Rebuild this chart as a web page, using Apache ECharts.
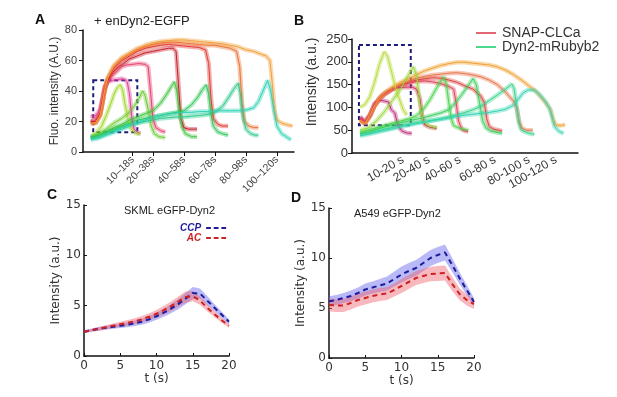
<!DOCTYPE html>
<html>
<head>
<meta charset="utf-8">
<script src="https://cdn.jsdelivr.net/npm/echarts@6/dist/echarts.min.js"></script>
<style>
  html, body { margin: 0; background: #fff; }
  #chart { width: 617px; height: 397px; }
</style>
</head>
<body>
<div id="chart"></div>
<script>
// ---- panel A : enDyn2-EGFP windows ----
const aTicks = [32, 45, 65, 85, 105, 125];
const aTickLabels = ['10–18s', '20–38s', '40–58s', '60–78s', '80–98s', '100–120s'];
const aClc = [
  [[5,24],[7,23],[9,25],[11,28],[12.5,35],[14,43],[16,46],[19,47],[22,47.5],[25,48],[27,47.5],[28.5,46],[30,38],[31.5,22],[33,15],[35,13],[37,12]],
  [[5,21],[7,20],[9,22],[11,26],[12.5,34],[14,42],[16,47],[19,50],[22,53],[25,56],[28,57],[32,57.5],[36,58],[40,57.5],[42,56],[43.5,40],[45,22],[47,16],[50,14],[53,13]],
  [[5,20],[8,20],[11,25],[12.5,33],[14,41],[16,47],[19,52],[22,55],[26,58],[30,61],[35,63],[40,65],[45,66],[50,67],[55,68],[58,68],[60,66],[61.5,45],[63,22],[65,16],[68,15],[71,15],[73.5,15]],
  [[5,19],[8,19],[11,24],[12.5,32],[14,41],[16,48],[20,55],[25,60],[30,63],[35,66],[40,68],[45,69],[50,70],[55,70.5],[60,70],[65,69.5],[70,69],[75,68.5],[79,67],[81,58],[82.5,35],[84,22],[87,18],[90,17],[93.5,17]],
  [[5,19],[8,19],[11,24],[12.5,32],[14,41],[16,48],[20,56],[25,61],[30,64],[35,67],[40,69],[45,70.5],[50,71.5],[55,72],[60,72],[65,71.5],[70,71],[75,70.5],[80,70],[85,70],[90,69],[95,68],[99,66],[101,56],[102.5,32],[104,20],[107,17],[110,16],[113,16]],
  [[5,19],[8,19],[11,24],[12.5,32],[14,41],[16,49],[20,57],[25,62],[30,65],[35,68],[40,70],[45,71.5],[50,72.5],[55,73],[60,73.5],[65,73.5],[70,73],[75,72.5],[80,72],[85,71.5],[90,71],[95,70],[100,69],[105,67],[110,66],[115,64],[118,63],[120.5,60],[122,45],[123.5,27],[125,21],[128,19],[131,18],[135,17]]
];
const aDyn = [
  [[6.5,11],[9,13],[12,17],[15,24],[18,32],[20,38],[22,42],[24,44],[25.5,41],[27,32],[29,22],[31,15],[33,13],[35,12],[37,12]],
  [[5,10],[10,12],[15,15],[20,19],[25,22],[30,26],[33,30],[36,35],[38.5,40],[40,37],[42,28],[44,17],[46,12],[49,10],[53,9.5]],
  [[5,9],[10,11],[15,13],[20,16],[25,18],[30,21],[35,23],[40,25],[45,27],[50,32],[54,38],[57,43],[59,46],[60.5,40],[62,28],[64,16],[66,12],[70,10],[73.5,10]],
  [[5,10],[10,11],[15,13],[20,15],[25,17],[30,19],[35,21],[40,22],[45,23],[50,24],[55,25],[60,26],[65,27],[70,31],[74,36],[77,41],[79.5,44],[81,38],[82.5,25],[84,17],[87,13],[90,12],[93.5,11]],
  [[5,9],[10,10],[15,12],[20,14],[25,16],[30,18],[35,19],[40,20],[45,21],[50,22],[55,22.5],[60,23],[65,23],[70,23.5],[75,24],[80,24.5],[85,26],[90,30],[94,36],[97,41],[100,45],[101.5,38],[103,24],[105,15],[108,12],[111,11],[113,11]],
  [[5,8],[10,9],[15,11],[20,13],[25,15],[30,17],[35,19],[40,21],[45,23],[50,24],[55,25],[60,25.5],[65,26],[70,26],[75,26.5],[80,26.5],[85,27],[90,27],[95,27],[100,27],[105,27.5],[110,29],[113,33],[116,40],[119,47],[121,40],[123,28],[125,17],[128,12],[131,10],[134,8]]
];
const aBox = [[6.6, 47], [35, 13]];

// ---- panel B : SNAP-CLCa / Dyn2-mRubyb2 windows ----
const bTicks = [31.6, 47.7, 66.9, 88.6, 109.7, 126.4];
const bTickLabels = ['10-20 s', '20-40 s', '40-60 s', '60-80 s', '80-100 s', '100-120 s'];
const bClc = [
  [[5,80],[8,69],[11,83],[14,109],[17,116],[20,114],[22.5,112],[24.5,94],[26.5,88],[28.5,60],[31,48],[34,44],[37,43]],
  [[5,76],[8,68],[11,82],[14,105],[17.5,123],[22,135],[26.5,142],[31,144],[37,145],[40,140],[42,120],[43.5,80],[45,62],[48,57],[52.5,54]],
  [[5,72],[8,65],[11,80],[14,105],[17,120],[20,130],[25,140],[30,148],[35,153],[40,157],[45,158],[50,156],[55,152],[60,146],[63,140],[64.5,110],[66,70],[68,52],[70,48],[72,47]],
  [[5,75],[8,67],[11,82],[14,104],[17,118],[20,128],[25,140],[30,148],[35,155],[40,160],[45,163],[50,165],[55,164],[60,160],[65,155],[70,147],[75,140],[80,124],[82,110],[83.5,75],[85,58],[88,52],[91,50],[93,48]],
  [[5,70],[8,64],[11,80],[14,102],[17,117],[20,128],[25,140],[30,150],[35,158],[40,164],[45,168],[50,171],[55,173],[60,175],[65,176],[70,174],[75,171],[80,167],[85,160],[90,150],[95,134],[100,114],[102,100],[103.5,70],[105,55],[108,50],[112,50]],
  [[5,72],[8,66],[11,82],[14,105],[17,120],[20,132],[25,145],[30,155],[35,163],[40,172],[45,180],[50,186],[55,192],[60,196],[65,199],[70,199],[75,197],[80,195],[85,193],[90,189],[95,182],[100,172],[105,160],[110,146],[115,132],[120,110],[123,95],[124.5,75],[126,62],[129,60],[132,62]]
];
const bDyn = [
  [[5,101],[8,106],[11,123],[14,155],[17,195],[20,222],[22,212],[24,185],[26.5,150],[28.7,125],[31.8,94],[34,83]],
  [[5,50],[10,55],[15,70],[20,90],[25,115],[30,140],[34,165],[38,189],[40,170],[42,110],[44,70],[47,60],[50,57],[52.7,55]],
  [[5,45],[10,50],[15,55],[20,60],[25,65],[30,70],[35,75],[40,82],[44,95],[48,115],[52,140],[55,158],[57,166],[58.5,150],[60,110],[61.5,75],[63,60],[66,55],[69,52],[72,50]],
  [[5,42],[10,46],[15,52],[20,57],[25,62],[30,66],[35,70],[40,74],[45,78],[50,83],[55,88],[60,95],[64,110],[68,128],[72,148],[75,163],[77,150],[79,110],[81,70],[83,55],[86,48],[90,45],[93,43]],
  [[5,40],[10,44],[15,48],[20,52],[25,56],[30,60],[35,63],[40,66],[45,69],[50,72],[55,75],[60,79],[65,84],[70,89],[75,95],[80,103],[85,115],[90,127],[95,140],[99,151],[100.5,140],[102,100],[103.5,65],[105,50],[108,45],[111,42],[113,41]],
  [[5,38],[10,41],[15,45],[20,49],[25,53],[30,57],[35,61],[40,65],[45,68],[50,71],[55,74],[60,77],[65,80],[70,83],[75,85],[80,87],[85,89],[90,92],[95,96],[100,105],[103,118],[106,132],[109,138],[113,138],[117,125],[120,112],[122.5,97],[124,78],[125.5,58],[128,48],[131,43]]
];
const bBox = [[4.3, 237], [36.4, 61]];

// ---- panels C and D : mean +/- error, CCP vs AC ----
const tSec = [0,1,2,3,4,5,6,7,8,9,10,11,12,13,14,15,16,17,18,19,20];
const cCcp    = [2.4,2.55,2.7,2.8,2.9,3.0,3.1,3.25,3.4,3.65,3.95,4.3,4.7,5.15,5.7,6.25,6.2,5.5,4.8,4.1,3.4];
const cCcpErr = [0.15,0.15,0.18,0.2,0.2,0.22,0.25,0.28,0.3,0.33,0.36,0.4,0.45,0.5,0.55,0.6,0.5,0.45,0.35,0.3,0.25];
const cAc     = [2.4,2.55,2.7,2.85,3.0,3.15,3.3,3.45,3.65,3.9,4.2,4.55,4.95,5.4,5.85,5.95,5.5,4.8,4.15,3.55,3.0];
const cAcErr  = [0.15,0.15,0.18,0.2,0.22,0.25,0.27,0.3,0.32,0.35,0.38,0.42,0.46,0.5,0.55,0.5,0.42,0.35,0.3,0.25,0.2];
const dCcp    = [5.67,5.8,6.0,6.2,6.5,6.85,7.05,7.25,7.45,7.9,8.35,8.7,9.0,9.5,10.0,10.3,10.55,9.3,8.0,6.8,5.6];
const dCcpErr = [0.5,0.5,0.5,0.55,0.55,0.6,0.6,0.65,0.7,0.75,0.8,0.8,0.8,0.8,0.8,0.8,0.8,0.7,0.6,0.5,0.4];
const dAc     = [5.3,5.25,5.25,5.5,5.8,6.0,6.2,6.35,6.45,6.8,7.2,7.6,8.0,8.2,8.4,8.45,8.5,7.4,6.4,5.8,5.4];
const dAcErr  = [0.65,0.65,0.65,0.65,0.65,0.65,0.65,0.65,0.65,0.65,0.7,0.7,0.7,0.7,0.72,0.75,0.75,0.7,0.6,0.55,0.5];

const aClcColors = ['#e0409a', '#e8406e', '#c8202c', '#e23c34', '#ec7434', '#f2a03c'];
const aDynColors = ['#a2d62a', '#6ccd32', '#3ec43e', '#2ec85a', '#2ccb8c', '#2ed2b4'];
const bClcColors = ['#c0307e', '#d43566', '#e04858', '#dc4640', '#e8754a', '#f0a030'];
const bDynColors = ['#b8dc3c', '#98d838', '#4cd24a', '#3cd060', '#38d490', '#36d4b4'];

const sans = 'Liberation Sans';
const mat = 'DejaVu Sans';
const dashIcon = 'path://M0 0h5v2h-5zM8 0h5v2h-5zM16 0h5v2h-5z';
const series = [];

function addTraces(list, colors, idx, names) {
  list.forEach((pts, i) => {
    series.push({
      type: 'line', xAxisIndex: idx, yAxisIndex: idx, data: pts, symbol: 'none', silent: true, z: 2,
      lineStyle: {color: colors[i], width: 4.5, opacity: 0.4}
    });
    series.push({
      name: names ? names[i] : undefined,
      type: 'line', xAxisIndex: idx, yAxisIndex: idx, data: pts, symbol: 'none', silent: true, z: 3,
      lineStyle: {color: colors[i], width: 1}
    });
  });
}

function addBox(idx, box) {
  series.push({
    type: 'line', xAxisIndex: idx, yAxisIndex: idx, data: [], silent: true,
    markArea: {
      silent: true,
      itemStyle: {color: 'rgba(0,0,0,0)', borderColor: '#1c1c7a', borderWidth: 2, borderType: [4, 3]},
      data: [[{coord: box[0]}, {coord: box[1]}]]
    }
  });
}

function addBand(idx, mean, err, fill, key) {
  series.push({
    type: 'line', xAxisIndex: idx, yAxisIndex: idx, stack: key, symbol: 'none', silent: true,
    data: mean.map((m, i) => m - err[i]), lineStyle: {opacity: 0}
  });
  series.push({
    type: 'line', xAxisIndex: idx, yAxisIndex: idx, stack: key, symbol: 'none', silent: true,
    data: err.map(e => 2 * e), lineStyle: {opacity: 0}, areaStyle: {color: fill, opacity: 1}
  });
}

function addDash(idx, mean, color, name) {
  series.push({
    name, type: 'line', xAxisIndex: idx, yAxisIndex: idx, symbol: 'none', silent: true, z: 4,
    data: mean, lineStyle: {color, width: 2, type: [5, 4]}
  });
}

addTraces(aClc, aClcColors, 0);
addTraces(aDyn, aDynColors, 0);
addBox(0, aBox);

const bClcNames = [null, null, 'SNAP-CLCa', null, null, null];
const bDynNames = [null, null, null, null, 'Dyn2-mRubyb2', null];
addTraces(bClc, bClcColors, 1, bClcNames);
addTraces(bDyn, bDynColors, 1, bDynNames);
addBox(1, bBox);

addBand(2, cCcp, cCcpErr, 'rgba(100,100,240,0.45)', 'cc');
addBand(2, cAc, cAcErr, 'rgba(240,100,110,0.45)', 'ca');
addDash(2, cCcp, '#1c1c9c', 'CCP');
addDash(2, cAc, '#cc2222', 'AC');

addBand(3, dCcp, dCcpErr, 'rgba(100,100,240,0.45)', 'dc');
addBand(3, dAc, dAcErr, 'rgba(240,100,110,0.45)', 'da');
addDash(3, dCcp, '#1c1c9c', 'CCP-D');
addDash(3, dAc, '#cc2222', 'AC-D');

const axisBlack = {show: true, lineStyle: {color: '#111', width: 1.5}};

const chart = echarts.init(document.getElementById('chart'));
chart.setOption({
  animation: false,
  backgroundColor: '#fff',
  title: [
    {text: 'A', left: 35, top: 13, padding: 0, textStyle: {fontFamily: sans, fontSize: 14, fontWeight: 'bold', color: '#111'}},
    {text: '+ enDyn2-EGFP', left: 94, top: 15, padding: 0, textStyle: {fontFamily: sans, fontSize: 13, fontWeight: 'normal', color: '#222'}},
    {text: 'B', left: 294, top: 14, padding: 0, textStyle: {fontFamily: sans, fontSize: 14, fontWeight: 'bold', color: '#111'}},
    {text: 'C', left: 47, top: 188, padding: 0, textStyle: {fontFamily: sans, fontSize: 14, fontWeight: 'bold', color: '#111'}},
    {text: 'SKML eGFP-Dyn2', left: 124, top: 205, padding: 0, textStyle: {fontFamily: sans, fontSize: 11, fontWeight: 'normal', color: '#222'}},
    {text: 'D', left: 291, top: 191, padding: 0, textStyle: {fontFamily: sans, fontSize: 14, fontWeight: 'bold', color: '#111'}},
    {text: 'A549 eGFP-Dyn2', left: 354, top: 208, padding: 0, textStyle: {fontFamily: sans, fontSize: 11, fontWeight: 'normal', color: '#222'}}
  ],
  legend: [
    {
      left: 476, top: 26, orient: 'vertical', itemGap: 0, itemWidth: 20, itemHeight: 2, padding: 0,
      icon: 'rect', textStyle: {fontFamily: sans, fontSize: 14, color: '#333', padding: [0, 0, 0, 1]},
      data: [
        {name: 'SNAP-CLCa', itemStyle: {color: '#e26676'}},
        {name: 'Dyn2-mRubyb2', itemStyle: {color: '#4fd88c'}}
      ]
    },
    {
      left: 180, top: 223, orient: 'vertical', align: 'right', itemGap: 0, itemWidth: 20, itemHeight: 2, padding: 0,
      icon: dashIcon, textStyle: {fontFamily: sans, fontSize: 10, fontStyle: 'italic', fontWeight: 'bold'},
      data: [
        {name: 'CCP', itemStyle: {color: '#1c1c9c'}, textStyle: {color: '#1c1c9c'}},
        {name: 'AC', itemStyle: {color: '#cc2222'}, textStyle: {color: '#cc2222'}}
      ]
    }
  ],
  grid: [
    {left: 83, top: 30, width: 211, height: 122},
    {left: 352, top: 39, width: 226, height: 114},
    {left: 84, top: 205, width: 145, height: 151},
    {left: 329, top: 208, width: 145, height: 150}
  ],
  xAxis: [
    {
      gridIndex: 0, type: 'value', min: 0, max: 136, axisLine: axisBlack, splitLine: {show: false},
      axisTick: {customValues: aTicks, length: 4, lineStyle: {color: '#111'}},
      axisLabel: {
        customValues: aTicks, rotate: 45, margin: 6, fontFamily: sans, fontSize: 10.5, color: '#444',
        formatter: v => aTickLabels[aTicks.indexOf(v)]
      }
    },
    {
      gridIndex: 1, type: 'value', min: 0, max: 140, axisLine: axisBlack, splitLine: {show: false},
      axisTick: {show: false},
      axisLabel: {
        customValues: bTicks, rotate: 30, margin: 6, fontFamily: sans, fontSize: 12, color: '#333',
        formatter: v => bTickLabels[bTicks.indexOf(v)]
      }
    },
    {
      gridIndex: 2, type: 'category', data: tSec, boundaryGap: false, axisLine: axisBlack,
      axisTick: {interval: 4, inside: true, length: 3, lineStyle: {color: '#111'}},
      axisLabel: {interval: 4, margin: 4, fontFamily: mat, fontSize: 12, color: '#333'},
      name: 't (s)', nameLocation: 'middle', nameGap: 16, nameTextStyle: {fontFamily: mat, fontSize: 12, color: '#333'}
    },
    {
      gridIndex: 3, type: 'category', data: tSec, boundaryGap: false, axisLine: axisBlack,
      axisTick: {interval: 4, inside: true, length: 3, lineStyle: {color: '#111'}},
      axisLabel: {interval: 4, margin: 4, fontFamily: mat, fontSize: 12, color: '#333'},
      name: 't (s)', nameLocation: 'middle', nameGap: 16, nameTextStyle: {fontFamily: mat, fontSize: 12, color: '#333'}
    }
  ],
  yAxis: [
    {
      gridIndex: 0, type: 'value', min: 0, max: 80, interval: 20, axisLine: axisBlack, splitLine: {show: false},
      axisTick: {show: true, length: 4, lineStyle: {color: '#111'}},
      axisLabel: {fontFamily: sans, fontSize: 11, color: '#444', margin: 6},
      name: 'Fluo. intensity (A.U.)', nameLocation: 'middle', nameGap: 22,
      nameTextStyle: {fontFamily: sans, fontSize: 12, color: '#333'}
    },
    {
      gridIndex: 1, type: 'value', min: 0, max: 250, interval: 50, axisLine: axisBlack, splitLine: {show: false},
      axisTick: {show: true, length: 4, lineStyle: {color: '#111'}},
      axisLabel: {fontFamily: sans, fontSize: 13, color: '#333', margin: 4},
      name: 'Intensity (a.u.)', nameLocation: 'middle', nameGap: 33,
      nameTextStyle: {fontFamily: sans, fontSize: 14, color: '#333', padding: [0, 0, 0, 28]}
    },
    {
      gridIndex: 2, type: 'value', min: 0, max: 15, interval: 5, axisLine: axisBlack, splitLine: {show: false},
      axisTick: {show: true, inside: true, length: 3, lineStyle: {color: '#111'}},
      axisLabel: {fontFamily: mat, fontSize: 12, color: '#333', margin: 3},
      name: 'Intensity (a.u.)', nameLocation: 'middle', nameGap: 22,
      nameTextStyle: {fontFamily: mat, fontSize: 12, color: '#333'}
    },
    {
      gridIndex: 3, type: 'value', min: 0, max: 15, interval: 5, axisLine: axisBlack, splitLine: {show: false},
      axisTick: {show: true, inside: true, length: 3, lineStyle: {color: '#111'}},
      axisLabel: {fontFamily: mat, fontSize: 12, color: '#333', margin: 3},
      name: 'Intensity (a.u.)', nameLocation: 'middle', nameGap: 22,
      nameTextStyle: {fontFamily: mat, fontSize: 12, color: '#333'}
    }
  ],
  series
});
</script>
</body>
</html>
